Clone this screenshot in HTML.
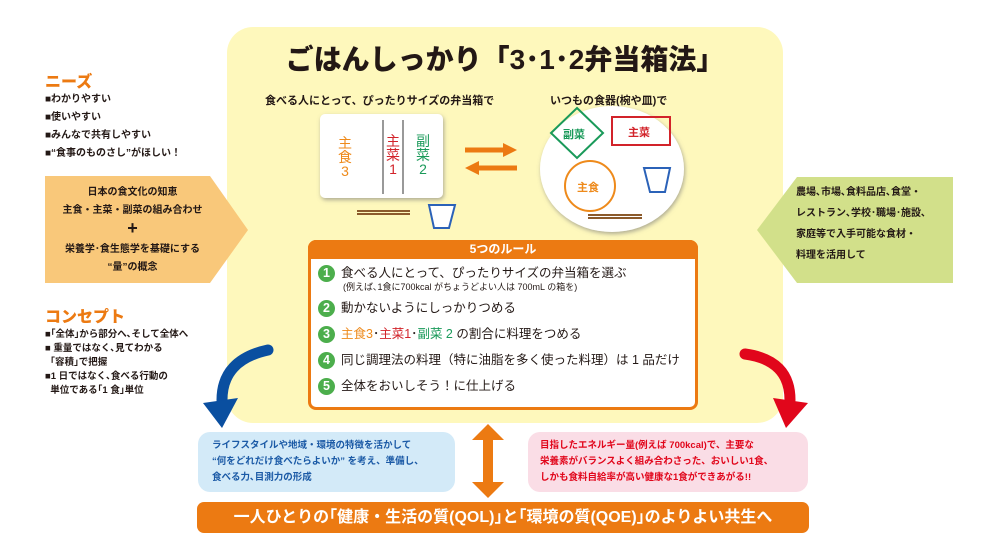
<!DOCTYPE html>
<html><head><meta charset="utf-8"><style>
body{margin:0;width:993px;height:546px;background:#fff;position:relative;overflow:hidden;font-family:"Liberation Sans","Noto Sans CJK JP",sans-serif;font-weight:bold;color:#231815}
.a{position:absolute}
.s{font-size:10px;line-height:18px}
.n{display:inline-block;width:17px;height:17px;line-height:17px;border-radius:50%;background:#4cae4c;color:#fff;text-align:center;font-weight:bold;margin-right:6px}
.v{font-size:14px;line-height:14px;font-weight:normal;text-align:center;width:16px}
</style></head><body>
<div class="a" style="left:227px;top:27px;width:556px;height:396px;background:#fef8bc;border-radius:26px"></div>
<div class="a" style="left:227px;top:38px;width:556px;text-align:center;font-size:28px;font-weight:900">ごはんしっかり「3･1･2弁当箱法」</div>
<div class="a" style="left:265px;top:92px;font-size:11px">食べる人にとって、ぴったりサイズの弁当箱で</div>
<div class="a" style="left:550px;top:92px;font-size:11px">いつもの食器(椀や皿)で</div>

<svg class="a" style="left:0;top:0" width="993" height="546">
<defs><filter id="sh"><feDropShadow dx="1" dy="2" stdDeviation="2" flood-color="#777" flood-opacity=".6"/></filter></defs>
<rect x="320" y="114" width="123" height="84" rx="5" fill="#fff" filter="url(#sh)"/>
<line x1="383" y1="120" x2="383" y2="194" stroke="#999" stroke-width="2"/>
<line x1="403" y1="120" x2="403" y2="194" stroke="#999" stroke-width="2"/>
<line x1="357" y1="211" x2="410" y2="211" stroke="#8b5a2b" stroke-width="2"/><line x1="357" y1="214" x2="410" y2="214" stroke="#8b5a2b" stroke-width="2"/>
<path d="M429 205 L455 205 L449 228 L434 228 Z" fill="#fff" stroke="#2b62b8" stroke-width="2"/>
<ellipse cx="612" cy="169" rx="72" ry="63" fill="#fff" filter="url(#sh)"/>
<path d="M577 108 L603 133 L577 158 L551 133 Z" fill="none" stroke="#1a9a5a" stroke-width="2"/>
<rect x="612" y="117" width="58" height="28" fill="none" stroke="#d2232a" stroke-width="2"/>
<circle cx="590" cy="186" r="25" fill="none" stroke="#ee8a1b" stroke-width="2"/>
<path d="M644 168 L670 168 L665 192 L650 192 Z" fill="none" stroke="#2b62b8" stroke-width="2"/>
<line x1="588" y1="215" x2="642" y2="215" stroke="#8b5a2b" stroke-width="2"/><line x1="588" y1="218" x2="642" y2="218" stroke="#8b5a2b" stroke-width="2"/>
<path d="M465 150 L505 150" stroke="#ec7a12" stroke-width="5"/><path d="M503 143 L517 150 L503 157Z" fill="#ec7a12"/>
<path d="M477 168 L517 168" stroke="#ec7a12" stroke-width="5"/><path d="M479 161 L465 168 L479 175Z" fill="#ec7a12"/>
<path d="M45 176 L210 176 L248 230 L210 283 L45 283 Z" fill="#f9c87a"/>
<path d="M953 177 L797 177 L757 230 L797 283 L953 283 Z" fill="#d2e08a"/>
<path d="M268 350 Q222 360 222 400" fill="none" stroke="#0a4fa0" stroke-width="11" stroke-linecap="round"/>
<path d="M203 403 L238 398 L222 428 Z" fill="#0a4fa0"/>
<path d="M745 354 Q790 360 790 400" fill="none" stroke="#e1061b" stroke-width="11" stroke-linecap="round"/>
<path d="M773 398 L808 403 L786 428 Z" fill="#e1061b"/>
<path d="M488 424 L504 440 L493 440 L493 482 L504 482 L488 498 L472 482 L483 482 L483 440 L472 440 Z" fill="#ec7a12"/>
</svg>
<div class="a v" style="left:337px;top:136px;color:#ee8a1b">主<br>食<br>3</div>
<div class="a v" style="left:385px;top:134px;color:#d2232a">主<br>菜<br>1</div>
<div class="a v" style="left:415px;top:134px;color:#1a9a5a">副<br>菜<br>2</div>
<div class="a" style="left:563px;top:126px;font-size:11px;color:#1a9a5a">副菜</div>
<div class="a" style="left:628px;top:124px;font-size:11px;color:#d2232a">主菜</div>
<div class="a" style="left:577px;top:179px;font-size:11px;color:#ee8a1b">主食</div>

<div class="a" style="left:45px;top:68px;font-size:16px;color:#ec7a12;font-weight:900">ニーズ</div>
<div class="a s" style="left:45px;top:91px">■わかりやすい<br>■使いやすい<br>■みんなで共有しやすい<br>■“食事のものさし”がほしい！</div>
<div class="a" style="left:45px;top:184px;width:175px;text-align:center;font-size:10px;line-height:18px">日本の食文化の知恵<br>主食・主菜・副菜の組み合わせ<br><span style="font-size:18px;line-height:16px">+</span><br>栄養学･食生態学を基礎にする<br>“量”の概念</div>
<div class="a" style="left:45px;top:303px;font-size:16px;color:#ec7a12;font-weight:900">コンセプト</div>
<div class="a" style="left:45px;top:328px;font-size:9.5px;line-height:14px">■｢全体｣から部分へ､そして全体へ<br>■ 重量ではなく､見てわかる<br>&nbsp;&nbsp;｢容積｣で把握<br>■1 日ではなく､食べる行動の<br>&nbsp;&nbsp;単位である｢1 食｣単位</div>
<div class="a" style="left:796px;top:182px;font-size:10px;line-height:21px">農場､市場､食料品店､食堂・<br>レストラン､学校･職場･施設､<br>家庭等で入手可能な食材・<br>料理を活用して</div>

<div class="a" style="left:308px;top:240px;width:384px;height:164px;border:3px solid #ec7a12;border-radius:8px;background:#fff"></div>
<div class="a" style="left:308px;top:240px;width:390px;height:19px;background:#ec7a12;border-radius:8px 8px 0 0;color:#fff;text-align:center;font-size:12px;line-height:19px">5つのルール</div>
<div class="a" style="left:318px;top:265px;font-size:12.5px;font-weight:normal;line-height:17px">
<div><span class="n">1</span>食べる人にとって、ぴったりサイズの弁当箱を選ぶ</div>
<div style="font-size:9px;line-height:11px;padding-left:25px">(例えば､1食に700kcal がちょうどよい人は 700mL の箱を)</div>
<div style="margin-top:7px"><span class="n">2</span>動かないようにしっかりつめる</div>
<div style="margin-top:9px"><span class="n">3</span><span style="color:#ee8a1b">主食3</span>･<span style="color:#d2232a">主菜1</span>･<span style="color:#1a9a5a">副菜 2</span> の割合に料理をつめる</div>
<div style="margin-top:9px"><span class="n">4</span>同じ調理法の料理（特に油脂を多く使った料理）は 1 品だけ</div>
<div style="margin-top:9px"><span class="n">5</span>全体をおいしそう！に仕上げる</div>
</div>

<div class="a" style="left:198px;top:432px;width:257px;height:60px;background:#d3eaf8;border-radius:12px"></div>
<div class="a" style="left:212px;top:438px;font-size:9.5px;line-height:16px;color:#1b5aa6">ライフスタイルや地域・環境の特徴を活かして<br>“何をどれだけ食べたらよいか” を考え、準備し、<br>食べる力､目測力の形成</div>
<div class="a" style="left:528px;top:432px;width:280px;height:60px;background:#fadde6;border-radius:12px"></div>
<div class="a" style="left:540px;top:438px;font-size:9.5px;line-height:16px;color:#e1061b">目指したエネルギー量(例えば 700kcal)で、主要な<br>栄養素がバランスよく組み合わさった、おいしい1食、<br>しかも食料自給率が高い健康な1食ができあがる!!</div>
<div class="a" style="left:197px;top:502px;width:612px;height:31px;background:#ec7a12;border-radius:7px;color:#fff;text-align:center;font-size:16px;line-height:31px">一人ひとりの｢健康・生活の質(QOL)｣と｢環境の質(QOE)｣のよりよい共生へ</div>
</body></html>
